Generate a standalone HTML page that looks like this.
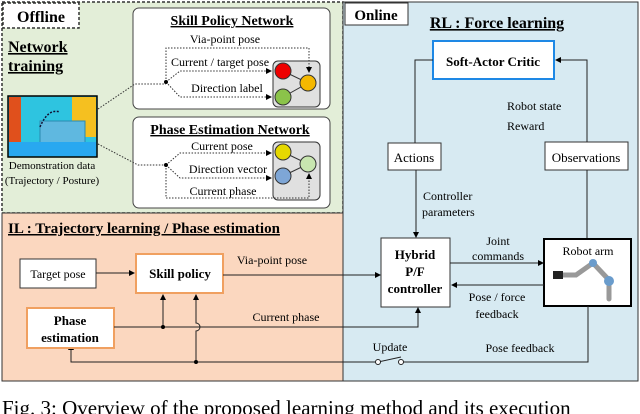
<!DOCTYPE html>
<html><head><meta charset="utf-8"><style>
body{margin:0;background:#fff;}
svg{display:block;font-family:"Liberation Serif",serif;}
</style></head><body>
<svg width="640" height="414" viewBox="0 0 640 414" xmlns="http://www.w3.org/2000/svg">
<defs>
<marker id="a" markerWidth="6" markerHeight="6" refX="5" refY="3" orient="auto" markerUnits="userSpaceOnUse"><path d="M0,0 L6,3 L0,6z" fill="#000"/></marker>
</defs>
<rect x="2" y="2" width="341" height="211" fill="#e3eed8" stroke="#333" stroke-dasharray="3,2" stroke-width="1.5"/>
<rect x="2" y="213" width="341" height="168" fill="#fbd7bf" stroke="#333" stroke-width="1"/>
<rect x="343" y="2" width="295" height="379" fill="#d7eaf2" stroke="#333" stroke-width="1"/>
<rect x="3" y="3" width="76" height="25" fill="#fff" stroke="#333" stroke-dasharray="3,2" stroke-width="1.5"/>
<text x="41" y="22" font-size="16" font-weight="bold" text-anchor="middle">Offline</text>
<rect x="345" y="3" width="63" height="22" fill="#fff" stroke="#333"/>
<text x="376" y="20" font-size="15" font-weight="bold" text-anchor="middle">Online</text>
<text x="8" y="52" font-size="16" font-weight="bold" text-decoration="underline">Network</text>
<text x="8" y="71" font-size="16" font-weight="bold" text-decoration="underline">training</text>
<rect x="133" y="8" width="197" height="101" rx="6" fill="#fff" stroke="#444"/>
<text x="232" y="25" font-size="14" font-weight="bold" text-anchor="middle" text-decoration="underline">Skill Policy Network</text>
<rect x="273" y="61" width="47" height="46" rx="5" fill="#e0e0e0" stroke="#333"/>
<text x="225" y="43" font-size="12" text-anchor="middle">Via-point pose</text>
<text x="220" y="66" font-size="12" text-anchor="middle">Current / target pose</text>
<text x="227" y="92" font-size="12" text-anchor="middle">Direction label</text>
<g stroke="#333" fill="none" stroke-width="1">
<path d="M166,82 V48 H309 V72" stroke-dasharray="1.5,1.5" marker-end="url(#a)"/>
<path d="M166,82 L180,71 H271" stroke-dasharray="1.5,1.5" marker-end="url(#a)"/>
<path d="M166,82 L180,97 H271" stroke-dasharray="1.5,1.5" marker-end="url(#a)"/>
<path d="M283,71 L308,83 L283,97"/>
<path d="M98,109 L135,84 H166" stroke-dasharray="1.5,1.5"/>
</g>
<circle cx="166" cy="82" r="2" fill="#000"/>
<circle cx="283" cy="71" r="8" fill="#e00" stroke="#333"/>
<circle cx="283" cy="97" r="8" fill="#8bc34a" stroke="#333"/>
<circle cx="308" cy="83" r="8" fill="#f5b800" stroke="#333"/>
<rect x="133" y="117" width="197" height="91" rx="6" fill="#fff" stroke="#444"/>
<text x="230" y="134" font-size="14" font-weight="bold" text-anchor="middle" text-decoration="underline">Phase Estimation Network</text>
<rect x="273" y="142" width="47" height="58" rx="5" fill="#e0e0e0" stroke="#333"/>
<text x="222" y="150" font-size="12" text-anchor="middle">Current pose</text>
<text x="228" y="173" font-size="12" text-anchor="middle">Direction vector</text>
<text x="223" y="195" font-size="12" text-anchor="middle">Current phase</text>
<g stroke="#333" fill="none" stroke-width="1">
<path d="M166,165 L180,153 H271" stroke-dasharray="1.5,1.5" marker-end="url(#a)"/>
<path d="M166,165 L180,178 H271" stroke-dasharray="1.5,1.5" marker-end="url(#a)"/>
<path d="M166,165 V198 H309 V174" stroke-dasharray="1.5,1.5" marker-end="url(#a)"/>
<path d="M283,152 L308,164 L283,176"/>
<path d="M98,144 L138,165 H166" stroke-dasharray="1.5,1.5"/>
</g>
<circle cx="166" cy="165" r="2" fill="#000"/>
<circle cx="283" cy="152" r="8" fill="#e6d800" stroke="#333"/>
<circle cx="283" cy="176" r="8" fill="#7ea6d6" stroke="#333"/>
<circle cx="308" cy="164" r="8" fill="#c8e6b0" stroke="#333"/>
<rect x="8" y="96" width="89" height="61" fill="#2ec4e0" stroke="#000" stroke-width="1.5"/>
<rect x="9" y="97" width="12" height="45" fill="#e0501c"/>
<rect x="72" y="97" width="24" height="40" fill="#f5c020"/>
<rect x="40" y="121" width="45" height="28" fill="#5fb8e0" stroke="#2a8ab0"/>
<rect x="9" y="142" width="87" height="14" fill="#28a8f0"/>
<path d="M40,127 Q48,108 60,112" stroke="#113" stroke-dasharray="2,1.5" fill="none" stroke-width="1.5"/>
<text x="52" y="169" font-size="11" text-anchor="middle">Demonstration data</text>
<text x="52" y="184" font-size="11" text-anchor="middle">(Trajectory / Posture)</text>
<text x="497" y="28" font-size="16" font-weight="bold" text-anchor="middle" text-decoration="underline">RL : Force learning</text>
<rect x="433" y="41" width="121" height="38" fill="#fff" stroke="#1e88e5" stroke-width="2"/>
<text x="493" y="66" font-size="13" font-weight="bold" text-anchor="middle">Soft-Actor Critic</text>
<rect x="388" y="143" width="53" height="27" fill="#fff" stroke="#333"/>
<text x="414" y="162" font-size="13" text-anchor="middle">Actions</text>
<rect x="545" y="142" width="83" height="28" fill="#fff" stroke="#333"/>
<text x="586" y="162" font-size="13" text-anchor="middle">Observations</text>
<text x="507" y="110" font-size="12">Robot state</text>
<text x="507" y="130" font-size="12">Reward</text>
<text x="423" y="200" font-size="12">Controller</text>
<text x="422" y="216" font-size="12">parameters</text>
<g stroke="#222" fill="none" stroke-width="1">
<path d="M433,60 H415 V143"/>
<path d="M416,170 V237" marker-end="url(#a)"/>
<path d="M587,142 V60 H556" marker-end="url(#a)"/>
<path d="M587,170 V238"/>
</g>
<rect x="381" y="238" width="69" height="69" fill="#fff" stroke="#333"/>
<text x="415" y="259" font-size="13" font-weight="bold" text-anchor="middle">Hybrid</text>
<text x="415" y="276" font-size="13" font-weight="bold" text-anchor="middle">P/F</text>
<text x="415" y="293" font-size="13" font-weight="bold" text-anchor="middle">controller</text>
<rect x="544" y="239" width="87" height="67" fill="#fff" stroke="#000" stroke-width="2"/>
<text x="588" y="255" font-size="12" text-anchor="middle">Robot arm</text>
<g stroke="#999" stroke-width="5" stroke-linecap="round" fill="none">
<path d="M562,275 H576 L593,263 L609,280 L609,299"/>
</g>
<circle cx="593" cy="263" r="4" fill="#6a9ccc"/><circle cx="609" cy="281" r="5" fill="#6a9ccc"/>
<rect x="553" y="271" width="10" height="8" fill="#222"/>
<text x="498" y="245" font-size="12" text-anchor="middle">Joint</text>
<text x="498" y="260" font-size="12" text-anchor="middle">commands</text>
<text x="497" y="301" font-size="12" text-anchor="middle">Pose / force</text>
<text x="497" y="318" font-size="12" text-anchor="middle">feedback</text>
<g stroke="#222" fill="none" stroke-width="1">
<path d="M450,263 H543" marker-end="url(#a)"/>
<path d="M544,285 H452" marker-end="url(#a)"/>
<path d="M588,306 V362 H403"/>
<path d="M378,362 L401,357"/>
<path d="M376,362 H71 V345" marker-end="url(#a)"/>
</g>
<circle cx="378" cy="362" r="2.5" fill="#fff" stroke="#222"/>
<circle cx="401" cy="362" r="2.5" fill="#fff" stroke="#222"/>
<text x="390" y="351" font-size="12" text-anchor="middle">Update</text>
<text x="520" y="352" font-size="12" text-anchor="middle">Pose feedback</text>
<text x="8" y="233" font-size="15" font-weight="bold" text-decoration="underline">IL : Trajectory learning / Phase estimation</text>
<rect x="20" y="259" width="76" height="29" fill="#fff" stroke="#333"/>
<text x="58" y="278" font-size="12" text-anchor="middle">Target pose</text>
<rect x="136" y="254" width="87" height="39" fill="#fff" stroke="#f0a060" stroke-width="2"/>
<text x="180" y="278" font-size="13" font-weight="bold" text-anchor="middle">Skill policy</text>
<rect x="27" y="308" width="87" height="40" fill="#fff" stroke="#f0a060" stroke-width="2"/>
<text x="70" y="325" font-size="13" font-weight="bold" text-anchor="middle">Phase</text>
<text x="70" y="342" font-size="13" font-weight="bold" text-anchor="middle">estimation</text>
<text x="272" y="264" font-size="12" text-anchor="middle">Via-point pose</text>
<text x="286" y="321" font-size="12" text-anchor="middle">Current phase</text>
<g stroke="#222" fill="none" stroke-width="1">
<path d="M96,273 H134" marker-end="url(#a)"/>
<path d="M223,275 H380" marker-end="url(#a)"/>
<path d="M114,327 H418 V308" marker-end="url(#a)"/>
<path d="M163,327 V295" marker-end="url(#a)"/>
<path d="M196,362 V331 A4,4 0 0 0 196,323 V295" marker-end="url(#a)"/>
</g>
<circle cx="163" cy="327" r="2" fill="#000"/>
<circle cx="196" cy="362" r="2" fill="#000"/>
<text x="2" y="415" font-size="21">Fig. 3: Overview of the proposed learning method and its execution</text>
</svg>
</body></html>
